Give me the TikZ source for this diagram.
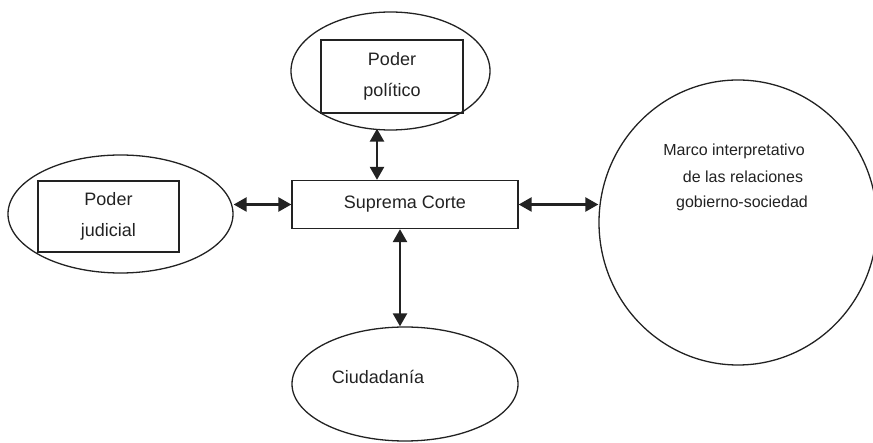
\documentclass[tikz,border=0pt]{standalone}
\usepackage{fontspec}
\setmainfont{Liberation Sans}
\usetikzlibrary{shapes.geometric,arrows.meta}
\definecolor{ink}{HTML}{222222}
\tikzset{
  x=1pt,y=-1pt,
  ell/.style={draw=ink,line width=1.3pt,ellipse,inner sep=0pt},
  box/.style={draw=ink,line width=1.3pt,rectangle,inner sep=0pt,align=center,
              font=\fontsize{18}{31}\selectfont,text=ink},
  lbl/.style={inner sep=0pt,text=ink,font=\fontsize{18}{22}\selectfont},
  mlbl/.style={inner sep=0pt,text=ink,font=\fontsize{16}{20}\selectfont},
  dar/.style={draw=ink,line width=2.4pt,{Triangle[length=13pt,width=14pt]}-{Triangle[length=13pt,width=14pt]}}
}
\begin{document}
\begin{tikzpicture}
\useasboundingbox (0,0) rectangle (873,443);
% ellipses
\node[ell,minimum width=199pt,minimum height=118pt] (pe) at (390.5,71) {};
\node[ell,minimum width=225pt,minimum height=118pt] (je) at (120.5,214) {};
\node[ell,minimum width=278pt,minimum height=285pt] (me) at (738,222.5) {};
\node[ell,minimum width=226pt,minimum height=114pt] (ce) at (405,384) {};
% boxes
\node[box,minimum width=142pt,minimum height=73pt] (pp) at (392,76.5) {Poder\\político};
\node[box,minimum width=141pt,minimum height=71pt] (pj) at (108.5,216.5) {Poder\\judicial};
\node[box,minimum width=226pt,minimum height=48pt,font=\fontsize{18}{22}\selectfont] (sc) at (405,204.5) {Suprema Corte};
% labels
\node[mlbl] (m1) at (734,151) {Marco interpretativo};
\node[mlbl] (m2) at (743,177) {de las relaciones};
\node[mlbl] (m3) at (742,203) {gobierno-sociedad};
\node[lbl] (cl) at (378,377) {Ciudadanía};
% connectors
\draw[dar] ([yshift=2pt]pe.south -| 377,0) coordinate (t0) -- (t0 |- sc.north);
\draw[dar] (je.east |- sc.west) -- (sc.west);
\draw[dar] (sc.east) -- (sc.east -| me.west);
\draw[dar] ([xshift=-5pt]sc.south) -- ([xshift=-5pt]ce.north);
\end{tikzpicture}
\end{document}
